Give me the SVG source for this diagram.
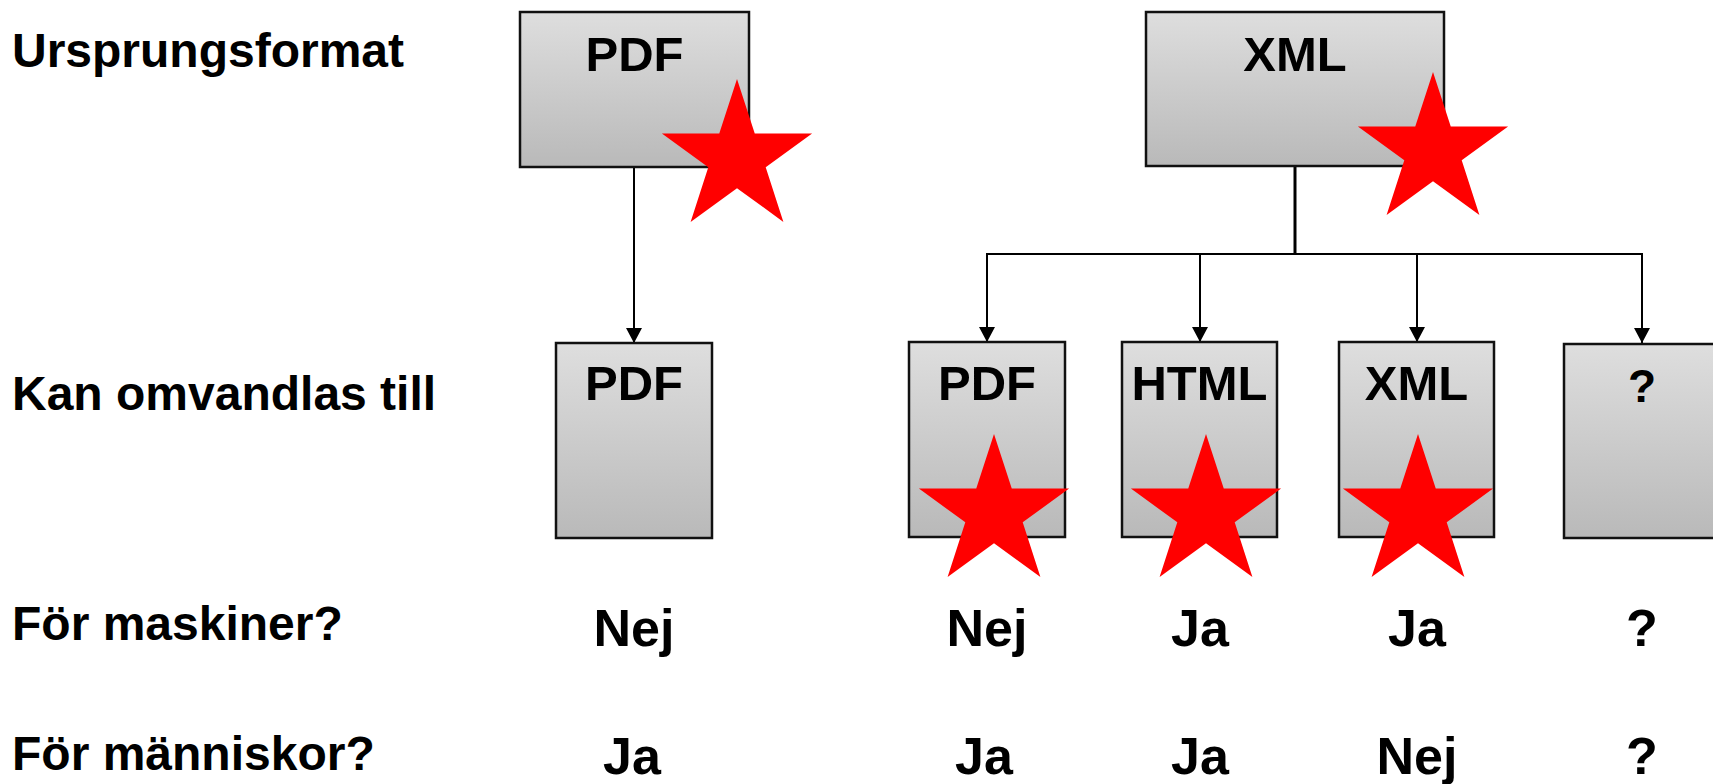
<svg xmlns="http://www.w3.org/2000/svg" width="1713" height="784" viewBox="0 0 1713 784">
<defs>
<linearGradient id="g" x1="0" y1="0" x2="0" y2="1">
<stop offset="0" stop-color="#dedede"/>
<stop offset="1" stop-color="#b9b9b9"/>
</linearGradient>
<marker id="arr" markerWidth="16" markerHeight="16" refX="15" refY="8" orient="auto" markerUnits="userSpaceOnUse">
<path d="M0,0 L15,8 L0,16 Z" fill="#000"/>
</marker>
<polygon id="star" points="0,-79 17.75,-24.4 75.1,-24.4 28.7,9.3 46.4,63.9 0,30.2 -46.4,63.9 -28.7,9.3 -75.1,-24.4 -17.75,-24.4"/>
</defs>
<style>
.box{fill:url(#g);stroke:#111;stroke-width:2.5}
.t{font-family:"Liberation Sans",Arial,sans-serif;font-weight:bold;fill:#000}
.lbl{font-size:48px}
.bt{font-size:49px;text-anchor:middle}
.rv{font-size:52px;text-anchor:middle}
.c{fill:none;stroke:#000;stroke-width:2}
.star{fill:#ff0000}
</style>
<rect width="1713" height="784" fill="#fff"/>
<g id="labels" class="t lbl">
<text x="12" y="67">Ursprungsformat</text>
<text x="12" y="410">Kan omvandlas till</text>
<text x="12" y="640">För maskiner?</text>
<text x="12" y="770">För människor?</text>
</g>
<g id="connectors">
<line class="c" x1="634" y1="167" x2="634" y2="343" marker-end="url(#arr)"/>
<line class="c" x1="1295" y1="166" x2="1295" y2="254" style="stroke-width:3"/>
<line class="c" x1="986" y1="254" x2="1643" y2="254"/>
<line class="c" x1="987" y1="254" x2="987" y2="342" marker-end="url(#arr)"/>
<line class="c" x1="1200" y1="254" x2="1200" y2="342" marker-end="url(#arr)"/>
<line class="c" x1="1417" y1="254" x2="1417" y2="342" marker-end="url(#arr)"/>
<line class="c" x1="1642" y1="254" x2="1642" y2="343" marker-end="url(#arr)"/>
</g>
<g id="src-pdf">
<rect class="box" x="520" y="12" width="229" height="155"/>
<text class="t bt" x="634.5" y="71">PDF</text>
<use href="#star" class="star" x="737" y="158"/>
</g>
<g id="src-xml">
<rect class="box" x="1146" y="12" width="298" height="154"/>
<text class="t bt" x="1295" y="71">XML</text>
<use href="#star" class="star" x="1433" y="151"/>
</g>
<g id="pdf-pdf">
<rect class="box" x="556" y="343" width="156" height="195"/>
<text class="t bt" x="634" y="400">PDF</text>
</g>
<g id="xml-pdf">
<rect class="box" x="909" y="342" width="156" height="195"/>
<text class="t bt" x="987" y="400">PDF</text>
<use href="#star" class="star" x="994" y="513"/>
</g>
<g id="xml-html">
<rect class="box" x="1122" y="342" width="155" height="195"/>
<text class="t bt" x="1199.5" y="400">HTML</text>
<use href="#star" class="star" x="1206" y="513"/>
</g>
<g id="xml-xml">
<rect class="box" x="1339" y="342" width="155" height="195"/>
<text class="t bt" x="1416.5" y="400">XML</text>
<use href="#star" class="star" x="1418" y="513"/>
</g>
<g id="xml-unknown">
<rect class="box" x="1564" y="344" width="156" height="194"/>
<text class="t bt" x="1642" y="402" style="font-size:46px">?</text>
</g>
<g id="rows" class="t rv">
<text x="634" y="646">Nej</text>
<text x="987" y="646">Nej</text>
<text x="1200" y="646">Ja</text>
<text x="1417" y="646">Ja</text>
<text x="1642" y="646">?</text>
<text x="632" y="774">Ja</text>
<text x="984" y="774">Ja</text>
<text x="1200" y="774">Ja</text>
<text x="1417" y="774">Nej</text>
<text x="1642" y="774">?</text>
</g>
</svg>
